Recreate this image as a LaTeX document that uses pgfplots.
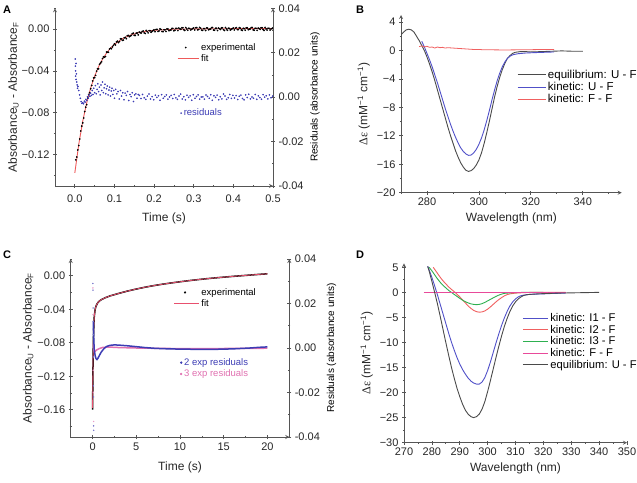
\documentclass[border=0pt]{standalone}
\usepackage{pgfplots}
\pgfplotsset{compat=1.18}
\usepackage{fontspec}
\setmainfont{Liberation Sans}
\newfontfamily\serifgr{Liberation Serif}
\definecolor{axgray}{HTML}{555555}
\definecolor{fitred}{HTML}{EE5A5A}
\definecolor{resblue}{HTML}{3C3CB4}
\definecolor{eqgray}{HTML}{4A4A4A}
\definecolor{kblue}{HTML}{5050C8}
\definecolor{kred}{HTML}{F06060}
\definecolor{kgreen}{HTML}{2EB050}
\definecolor{kpink}{HTML}{E84A9A}
\definecolor{cfit}{HTML}{E8506E}
\definecolor{cpink}{HTML}{E070B0}
\newcommand\tk{\fontsize{11}{12}\selectfont}
\newcommand\lb{\fontsize{12}{14}\selectfont}
\newcommand\lgs{\fontsize{9.5}{11}\selectfont}
\newcommand\lgb{\fontsize{11.5}{13}\selectfont}
\newcommand\lgd{\fontsize{11.2}{13}\selectfont}
\pgfplotsset{
  myax/.style={
    scale only axis, anchor=south west,
    axis line style={-, draw=axgray, line width=0.8pt},
    tick align=outside,
    tick style={draw=axgray, line width=0.7pt},
    major tick length=4pt, minor tick length=2.2pt,
    tick label style={font=\tk, text=black!85},
    label style={font=\lb, text=black!85},
    /pgf/number format/assume math mode=true,
    scaled x ticks=false, scaled y ticks=false,
    legend cell align=left,
  },
  dotleg/.style={legend image code/.code={\draw[##1] plot coordinates {(#1,0cm)};}},
  lineleg/.style={legend image code/.code={\draw[##1] (0pt,0pt) -- (#1,0pt);}},
}
\begin{document}
\begin{tikzpicture}
\path[use as bounding box] (0pt,0pt) rectangle (637pt,482pt);
% ===================== Panel A =====================
\begin{axis}[myax, at={(55pt,296pt)}, width=218pt, height=177.7pt,
  axis x line=bottom, axis y line=left,
  xmin=-0.05, xmax=0.5, ymin=-0.15, ymax=0.02,
  xtick={0,0.1,0.2,0.3,0.4,0.5}, xticklabels={0.0,0.1,0.2,0.3,0.4,0.5},
  minor xtick={-0.05,0.05,0.15,0.25,0.35,0.45},
  ytick={-0.12,-0.08,-0.04,0}, yticklabels={−0.12,−0.08,−0.04,0.00},
  minor ytick={-0.14,-0.10,-0.06,-0.02,0.02},
  xticklabel style={yshift=-3pt}, xlabel style={yshift=-4pt}, ylabel shift=-4pt,
  xlabel={Time (s)}, ylabel={Absorbance\textsubscript{U} - Absorbance\textsubscript{F}},
  legend style={draw=none, fill=none, font=\lgs, at={(0.56,0.747)}, anchor=west, inner sep=0pt, row sep=-1pt},
]
\addplot[only marks, mark=*, mark size=0.65pt, black, dotleg=8pt] coordinates {
(0.005,-0.1223)(0.010,-0.1113)(0.015,-0.0974)(0.020,-0.0896)(0.025,-0.0788)(0.030,-0.0722)(0.035,-0.0625)(0.040,-0.0570)(0.045,-0.0495)(0.050,-0.0464)
(0.055,-0.0401)(0.060,-0.0379)(0.065,-0.0324)(0.070,-0.0280)(0.075,-0.0268)(0.080,-0.0219)(0.085,-0.0221)(0.090,-0.0182)(0.095,-0.0169)(0.100,-0.0140)
(0.105,-0.0122)(0.110,-0.0128)(0.115,-0.0092)(0.120,-0.0107)(0.125,-0.0082)(0.130,-0.0091)(0.135,-0.0060)(0.140,-0.0065)(0.145,-0.0042)(0.150,-0.0059)
(0.155,-0.0038)(0.160,-0.0054)(0.165,-0.0033)(0.170,-0.0021)(0.175,-0.0035)(0.180,-0.0011)(0.185,-0.0035)(0.190,-0.0015)(0.195,-0.0020)(0.200,-0.0006)
(0.205,-0.0003)(0.210,-0.0021)(0.215,0.0003)(0.220,-0.0022)(0.225,-0.0005)(0.230,-0.0022)(0.235,0.0001)(0.240,-0.0010)(0.245,0.0007)(0.250,-0.0015)
(0.255,0.0008)(0.260,-0.0013)(0.265,0.0004)(0.270,0.0013)(0.275,-0.0005)(0.280,0.0016)(0.285,-0.0010)(0.290,0.0007)(0.295,0.0000)(0.300,0.0012)
(0.305,0.0014)(0.310,-0.0006)(0.315,0.0017)(0.320,-0.0009)(0.325,0.0006)(0.330,-0.0012)(0.335,0.0011)(0.340,-0.0001)(0.345,0.0015)(0.350,-0.0008)
(0.355,0.0008)(0.360,-0.0013)(0.365,0.0004)(0.370,0.0013)(0.375,-0.0005)(0.380,0.0016)(0.385,-0.0010)(0.390,0.0007)(0.395,0.0000)(0.400,0.0012)
(0.405,0.0010)(0.410,-0.0004)(0.415,0.0015)(0.420,-0.0007)(0.425,0.0008)(0.430,-0.0010)(0.435,0.0013)(0.440,0.0001)(0.445,0.0016)(0.450,-0.0006)
(0.455,0.0009)(0.460,-0.0011)(0.465,0.0006)(0.470,0.0014)(0.475,-0.0003)(0.480,0.0017)(0.485,-0.0008)(0.490,0.0009)(0.495,0.0002)(0.500,0.0013)
(0.0025,-0.1250)(0.0075,-0.1155)(0.0125,-0.1050)(0.0175,-0.0927)(0.0225,-0.0850)(0.0275,-0.0746)(0.0325,-0.0659)(0.0375,-0.0607)(0.0425,-0.0538)(0.0475,-0.0466)
(0.0525,-0.0442)(0.0575,-0.0379)(0.0625,-0.0335)(0.0675,-0.0312)(0.0725,-0.0264)(0.0775,-0.0261)(0.0825,-0.0220)(0.0875,-0.0190)(0.0925,-0.0187)(0.0975,-0.0154)
(0.1025,-0.0150)(0.1075,-0.0114)(0.1125,-0.0118)(0.1175,-0.0093)(0.1225,-0.0104)(0.1275,-0.0078)(0.1325,-0.0062)(0.1375,-0.0072)(0.1425,-0.0059)(0.1475,-0.0038)
(0.1525,-0.0059)(0.1575,-0.0036)(0.1625,-0.0028)(0.1675,-0.0037)(0.1725,-0.0018)(0.1775,-0.0041)(0.1825,-0.0023)(0.1875,-0.0014)(0.1925,-0.0029)(0.1975,-0.0013)
(0.2025,-0.0024)(0.2075,-0.0001)(0.2125,-0.0017)(0.2175,-0.0003)(0.2225,-0.0023)(0.2275,-0.0006)(0.2325,0.0003)(0.2375,-0.0014)(0.2425,-0.0007)(0.2475,0.0008)
(0.2525,-0.0010)(0.2575,0.0008)(0.2625,0.0011)(0.2675,-0.0002)(0.2725,0.0014)(0.2775,-0.0012)(0.2825,0.0003)(0.2875,0.0009)(0.2925,-0.0008)(0.2975,0.0006)
(0.3025,-0.0007)(0.3075,0.0015)(0.3125,-0.0003)(0.3175,0.0010)(0.3225,-0.0011)(0.3275,0.0005)(0.3325,0.0013)(0.3375,-0.0005)(0.3425,0.0001)(0.3475,0.0016)
(0.3525,-0.0010)(0.3575,0.0008)(0.3625,0.0011)(0.3675,-0.0002)(0.3725,0.0014)(0.3775,-0.0012)(0.3825,0.0003)(0.3875,0.0009)(0.3925,-0.0008)(0.3975,0.0006)
(0.4025,-0.0007)(0.4075,0.0015)(0.4125,-0.0003)(0.4175,0.0010)(0.4225,-0.0011)(0.4275,0.0005)(0.4325,0.0013)(0.4375,-0.0005)(0.4425,0.0001)(0.4475,0.0016)
(0.4525,-0.0010)(0.4575,0.0008)(0.4625,0.0011)(0.4675,-0.0002)(0.4725,0.0014)(0.4775,-0.0012)(0.4825,0.0003)(0.4875,0.0009)(0.4925,-0.0008)(0.4975,0.0006)
};
\addlegendentry{experimental}
\addplot[fitred, line width=0.9pt, lineleg=21pt] coordinates {
(0,-0.1375)(0.01,-0.1100)(0.02,-0.0880)(0.03,-0.0704)(0.04,-0.0562)(0.05,-0.0449)(0.06,-0.0359)(0.07,-0.0286)(0.08,-0.0228)(0.09,-0.0182)
(0.10,-0.0145)(0.12,-0.0091)(0.14,-0.0057)(0.16,-0.0034)(0.18,-0.0020)(0.20,-0.0011)(0.25,0.0000)(0.30,0.0003)(0.40,0.0005)(0.50,0.0005)
};
\addlegendentry{fit}
\end{axis}
\begin{axis}[myax, at={(55pt,296pt)}, width=218pt, height=177.7pt,
  axis x line=none, axis y line=right,
  xmin=-0.05, xmax=0.5, ymin=-0.04, ymax=0.04,
  ytick={-0.04,-0.02,0,0.02,0.04}, yticklabels={-0.04,-0.02,0.00,0.02,0.04},
  minor ytick={-0.03,-0.01,0.01,0.03},
  ylabel={Residuals (absorbance units)},
  legend style={draw=none, fill=none, font=\lgs, at={(0.575,0.41)}, anchor=west, inner sep=0pt},
]
\addplot[only marks, mark=*, mark size=0.6pt, resblue, dotleg=2pt] coordinates {
(0.001,0.0172)(0.0015,0.0140)(0.002,0.0118)(0.002,0.0095)(0.003,0.0152)(0.003,0.0080)(0.004,0.0105)(0.005,0.0068)(0.006,0.0055)(0.007,0.0040)
(0.008,0.0048)(0.010,0.0030)(0.012,0.0010)(0.014,-0.0005)(0.016,-0.0020)(0.018,-0.0028)(0.020,-0.0025)(0.022,-0.0030)(0.024,-0.0018)(0.026,-0.0022)
(0.028,-0.0010)(0.030,-0.0015)(0.032,0.0002)(0.034,-0.0005)(0.036,0.0010)(0.038,0.0004)(0.040,0.0018)(0.042,0.0008)(0.044,0.0030)(0.046,0.0012)
(0.048,0.0040)(0.050,0.0020)(0.052,0.0052)(0.054,0.0015)(0.056,0.0035)(0.058,0.0060)(0.060,0.0025)(0.062,0.0045)(0.064,0.0010)(0.066,0.0055)
(0.068,0.0030)(0.070,0.0068)(0.072,0.0020)(0.074,0.0042)(0.076,0.0058)(0.078,0.0015)(0.080,0.0038)(0.082,0.0050)(0.084,0.0010)(0.086,0.0032)
(0.088,0.0045)(0.090,0.0005)(0.092,0.0028)(0.094,0.0040)(0.096,0.0012)(0.098,0.0030)(0.100,-0.0005)(0.103,0.0035)(0.106,0.0015)(0.109,0.0025)
(0.112,-0.0008)(0.115,0.0030)(0.118,0.0005)(0.121,0.0020)(0.124,-0.0012)(0.127,0.0018)(0.130,0.0008)(0.133,0.0025)(0.136,-0.0015)(0.139,0.0012)
(0.142,0.0002)(0.145,0.0020)(0.148,-0.0020)(0.151,0.0010)(0.154,0.0015)(0.157,-0.0005)(0.160,0.0012)
(0.163,0.0008)(0.167,-0.0006)(0.171,0.0012)(0.175,-0.0003)(0.179,-0.0010)(0.183,0.0005)(0.187,0.0014)(0.191,-0.0008)(0.195,0.0002)(0.199,-0.0012)
(0.203,0.0009)(0.207,-0.0001)(0.211,0.0006)(0.215,-0.0014)(0.219,0.0011)(0.223,-0.0005)(0.227,0.0003)(0.231,0.0010)(0.235,-0.0009)(0.239,0.0001)
(0.243,0.0008)(0.247,-0.0006)(0.251,0.0012)(0.255,-0.0003)(0.259,-0.0010)(0.263,0.0005)(0.267,0.0014)(0.271,-0.0008)(0.275,0.0002)(0.279,-0.0012)
(0.283,0.0009)(0.287,-0.0001)(0.291,0.0006)(0.295,-0.0014)(0.299,0.0011)(0.303,-0.0005)(0.307,0.0003)(0.311,0.0010)(0.315,-0.0009)(0.319,0.0001)
(0.323,0.0001)(0.327,-0.0009)(0.331,0.0010)(0.335,0.0003)(0.339,-0.0005)(0.343,0.0011)(0.347,-0.0014)(0.351,0.0006)(0.355,-0.0001)(0.359,0.0009)
(0.363,-0.0012)(0.367,0.0002)(0.371,-0.0008)(0.375,0.0014)(0.379,0.0005)(0.383,-0.0010)(0.387,-0.0003)(0.391,0.0012)(0.395,-0.0006)(0.399,0.0008)
(0.403,-0.0004)(0.407,0.0007)(0.411,-0.0011)(0.415,0.0004)(0.419,0.0009)(0.423,-0.0006)(0.427,-0.0012)(0.431,0.0010)(0.435,-0.0002)(0.439,0.0013)
(0.443,-0.0008)(0.447,0.0001)(0.451,-0.0005)(0.455,0.0012)(0.459,-0.0010)(0.463,0.0006)(0.467,-0.0002)(0.471,-0.0009)(0.475,0.0011)(0.479,0.0000)
(0.483,0.0006)(0.487,-0.0008)(0.491,0.0010)(0.495,-0.0003)(0.499,0.0005)
};
\addlegendentry{\textcolor{resblue}{residuals}}
\end{axis}
% ===================== Panel B =====================
\begin{axis}[myax, at={(401pt,289.3pt)}, width=220.7pt, height=177.7pt,
  axis x line=bottom, axis y line=left,
  xmin=270, xmax=355, ymin=-20, ymax=5,
  xtick={280,300,320,340}, minor xtick={270,290,310,330,350},
  ytick={-20,-16,-12,-8,-4,0,4}, yticklabels={−20,−16,−12,−8,−4,0,4},
  minor ytick={-18,-14,-10,-6,-2,2},
  xlabel={Wavelength (nm)}, ylabel={{\serifgr Δε} (mM\textsuperscript{−1} cm\textsuperscript{−1})},
  legend image code/.code={\draw[#1] (0pt,0pt) -- (28pt,0pt);},
  legend style={draw=none, fill=none, font=\lgb, at={(0.525,0.595)}, anchor=west, inner sep=0pt, row sep=-1.5pt},
]
\addplot[eqgray, line width=0.9pt] coordinates {
(270,2.2)(271,2.6)(272,2.9)(273,3.0)(274,2.9)(275,2.6)(276,2.0)(277,1.4)(278,0.7)(279,0.0)(280,-0.9)(281,-1.9)(282,-3.0)(283,-4.2)(284,-5.5)
(285,-6.8)(286,-8.1)(287,-9.4)(288,-10.7)(289,-11.9)(290,-13.0)(291,-14.1)(292,-15.0)(293,-15.8)(294,-16.4)(295,-16.85)(296,-17.0)(297,-16.9)
(298,-16.6)(299,-16.1)(300,-15.4)(301,-14.4)(302,-13.1)(303,-11.6)(304,-10.0)(305,-8.3)(306,-6.6)(307,-5.1)(308,-3.8)(309,-2.7)(310,-1.8)
(311,-1.1)(312,-0.7)(313,-0.4)(314,-0.25)(316,-0.15)(318,-0.15)(320,-0.2)(324,-0.15)(328,-0.1)(332,-0.05)(336,-0.1)(340,-0.1)
};
\addlegendentry{equilibrium: U - F}
\addplot[kblue, line width=0.9pt] coordinates {
(278,1.3)(279,0.5)(280,-0.4)(281,-1.3)(282,-2.3)(283,-3.4)(284,-4.5)(285,-5.7)(286,-6.9)(287,-8.1)(288,-9.2)(289,-10.3)(290,-11.3)
(291,-12.2)(292,-13.0)(293,-13.7)(294,-14.2)(295,-14.55)(296,-14.75)(297,-14.7)(298,-14.4)(299,-13.9)(300,-13.2)(301,-12.3)(302,-11.2)
(303,-9.9)(304,-8.5)(305,-7.0)(306,-5.6)(307,-4.3)(308,-3.2)(309,-2.3)(310,-1.6)(311,-1.1)(312,-0.8)(313,-0.6)(315,-0.45)(318,-0.35)
(321,-0.3)(325,-0.25)(329,-0.2)
};
\addlegendentry{kinetic: U - F}
\addplot[kred, line width=0.8pt] coordinates {
(277,0.55)(278,0.65)(279,0.5)(280,0.6)(281,0.45)(282,0.5)(283,0.35)(284,0.5)(285,0.4)(286,0.45)(287,0.35)(288,0.4)(290,0.35)
(292,0.3)(294,0.25)(296,0.2)(298,0.15)(300,0.15)(302,0.1)(305,0.1)(310,0.08)(315,0.1)(320,0.12)(325,0.15)(329,0.15)
};
\addlegendentry{kinetic: F - F}
\end{axis}
% ===================== Panel C =====================
\begin{axis}[myax, at={(70.7pt,45pt)}, width=218.6pt, height=178pt,
  axis x line=bottom, axis y line=left,
  xmin=-2.5, xmax=22.5, ymin=-0.1926, ymax=0.0201,
  xtick={0,5,10,15,20}, minor xtick={-2.5,2.5,7.5,12.5,17.5,22.5},
  ytick={-0.16,-0.12,-0.08,-0.04,0}, yticklabels={−0.16,−0.12,−0.08,−0.04,0.00},
  minor ytick={-0.18,-0.14,-0.10,-0.06,-0.02,0.02},
  xlabel style={yshift=-5pt}, ylabel shift=-3pt,
  xlabel={Time (s)}, ylabel={Absorbance\textsubscript{U} - Absorbance\textsubscript{F}},
  legend style={draw=none, fill=none, font=\lgs, at={(0.47,0.78)}, anchor=west, inner sep=0pt, row sep=-1pt},
]
\addplot[black, line width=1.5pt, forget plot] coordinates {
(0,-0.160)(0.02,-0.140)(0.04,-0.118)(0.06,-0.100)(0.08,-0.086)(0.1,-0.075)(0.15,-0.058)(0.2,-0.048)(0.3,-0.040)(0.4,-0.036)(0.6,-0.032)
(0.8,-0.0300)(1.0,-0.0285)(1.5,-0.0260)(2,-0.0240)(3,-0.0210)(4,-0.0182)(5,-0.0158)(6,-0.0136)(7,-0.0117)(8,-0.0100)(9,-0.0085)
(10,-0.0071)(11,-0.0058)(12,-0.0046)(13,-0.0035)(14,-0.0025)(15,-0.0016)(16,-0.0007)(17,0.0001)(18,0.0009)(19,0.0017)(20,0.0024)
};
\addlegendimage{only marks, mark=*, mark size=0.9pt, black, dotleg=11pt}
\addlegendentry{experimental}
\addplot[cfit, line width=0.8pt, lineleg=25pt] coordinates {
(0,-0.158)(0.02,-0.139)(0.04,-0.118)(0.06,-0.100)(0.08,-0.086)(0.1,-0.075)(0.15,-0.058)(0.2,-0.048)(0.3,-0.040)(0.4,-0.036)(0.6,-0.032)
(0.8,-0.0300)(1.0,-0.0285)(1.5,-0.0260)(2,-0.0240)(3,-0.0210)(4,-0.0182)(5,-0.0158)(6,-0.0136)(7,-0.0117)(8,-0.0100)(9,-0.0085)
(10,-0.0071)(11,-0.0058)(12,-0.0046)(13,-0.0035)(14,-0.0025)(15,-0.0016)(16,-0.0007)(17,0.0001)(18,0.0009)(19,0.0017)(20,0.0024)
};
\addlegendentry{fit}
\end{axis}
\begin{axis}[myax, at={(70.7pt,45pt)}, width=218.6pt, height=178pt,
  axis x line=none, axis y line=right,
  xmin=-2.5, xmax=22.5, ymin=-0.04, ymax=0.04,
  ytick={-0.04,-0.02,0,0.02,0.04}, yticklabels={-0.04,-0.02,0.00,0.02,0.04},
  minor ytick={-0.03,-0.01,0.01,0.03},
  ylabel={Residuals (absorbance units)},
  legend style={draw=none, fill=none, font=\lgs, at={(0.5,0.386)}, anchor=west, inner sep=0pt, row sep=-1pt},
]
\addplot[only marks, mark=*, mark size=0.5pt, resblue!70, forget plot] coordinates {
(0.03,0.029)(0.05,0.026)(0.06,0.018)(0.07,0.012)(0.08,0.006)(0.09,-0.004)(0.10,-0.017)(0.11,-0.022)(0.12,-0.035)(0.13,-0.037)
};
\addplot[only marks, mark=*, mark size=0.5pt, cpink!70, forget plot] coordinates {
(0.04,0.027)(0.06,0.015)(0.08,-0.010)(0.10,-0.020)(0.12,-0.033)
};
\addplot[cpink, line width=1.5pt, forget plot] coordinates {
(0.1,0.002)(0.15,-0.001)(0.2,-0.0018)(0.3,-0.0015)(0.5,-0.0008)(0.8,-0.0002)(1.2,0.0003)(2,0.0004)(3,0.0002)(5,0.0000)(8,-0.0002)(12,-0.0003)(16,-0.0002)(20,-0.0001)
};
\addplot[resblue, line width=1.5pt, forget plot] coordinates {
(0.08,0.012)(0.12,0.006)(0.16,0.002)(0.2,-0.001)(0.3,-0.0035)(0.4,-0.0048)(0.5,-0.0052)(0.6,-0.0047)(0.8,-0.0032)(1.0,-0.0018)(1.3,-0.0003)
(1.6,0.0007)(2,0.0012)(2.5,0.0014)(3,0.0013)(4,0.0010)(5,0.0006)(6,0.0002)(7,-0.0001)(8,-0.0003)(10,-0.0005)(12,-0.0006)(14,-0.0006)
(16,-0.0004)(18,0.0000)(19,0.0003)(20,0.0005)
};
\addlegendimage{only marks, mark=*, mark size=1pt, resblue, dotleg=2pt}
\addlegendentry{\textcolor{resblue}{2 exp residuals}}
\addlegendimage{only marks, mark=*, mark size=1pt, cpink, dotleg=2pt}
\addlegendentry{\textcolor{cpink}{3 exp residuals}}
\end{axis}
% ===================== Panel D =====================
\begin{axis}[myax, at={(404pt,39.3pt)}, width=223pt, height=179.4pt,
  axis x line=bottom, axis y line=left,
  xmin=270, xmax=350, ymin=-30, ymax=5.8,
  xtick={270,280,290,300,310,320,330,340,350},
  minor xtick={275,285,295,305,315,325,335,345},
  ytick={-30,-25,-20,-15,-10,-5,0,5}, yticklabels={−30,−25,−20,−15,−10,−5,0,5},
  minor ytick={-27.5,-22.5,-17.5,-12.5,-7.5,-2.5,2.5},
  xlabel={Wavelength (nm)}, ylabel={{\serifgr Δε} (mM\textsuperscript{−1} cm\textsuperscript{−1})},
  legend image code/.code={\draw[#1, line width=1pt] (0pt,0pt) -- (25pt,0pt);},
  legend style={draw=none, fill=none, font=\lgd, at={(0.53,0.564)}, anchor=west, inner sep=0pt, row sep=-2pt},
]
\addplot[kblue, line width=0.9pt] coordinates {
(278.5,5.2)(279,4.5)(280,3.0)(281,1.3)(282,-0.5)(283,-2.4)(284,-4.3)(285,-6.2)(286,-8.1)(287,-9.9)(288,-11.5)(289,-13.0)(290,-14.3)
(291,-15.4)(292,-16.3)(293,-17.1)(294,-17.7)(295,-18.1)(296,-18.3)(297,-18.3)(298,-17.9)(299,-17.0)(300,-15.6)(301,-13.9)(302,-12.0)
(303,-10.1)(304,-8.3)(305,-6.6)(306,-5.1)(307,-3.8)(308,-2.7)(309,-1.9)(310,-1.3)(311,-0.9)(312,-0.65)(314,-0.45)(317,-0.35)(320,-0.3)
(324,-0.2)(328,-0.15)
};
\addlegendentry{kinetic: I1 - F}
\addplot[kred, line width=0.9pt] coordinates {
(280.5,5.0)(281,4.6)(282,3.8)(283,3.0)(284,2.3)(285,1.7)(286,1.1)(287,0.6)(288,0.15)(289,-0.35)(290,-0.9)(291,-1.5)(292,-2.1)(293,-2.7)
(294,-3.2)(295,-3.6)(296,-3.85)(297,-3.95)(298,-3.9)(299,-3.7)(300,-3.35)(301,-2.9)(302,-2.4)(303,-1.9)(304,-1.45)(305,-1.05)(306,-0.7)
(307,-0.45)(308,-0.3)(310,-0.15)(313,-0.05)(316,0.0)(320,0.0)(324,0.0)(328,0.0)
};
\addlegendentry{kinetic: I2 - F}
\addplot[kgreen, line width=0.9pt] coordinates {
(279,5.0)(280,4.3)(281,3.5)(282,2.7)(283,2.0)(284,1.4)(285,0.9)(286,0.4)(287,0.0)(288,-0.4)(289,-0.8)(290,-1.2)(291,-1.55)(292,-1.85)
(293,-2.1)(294,-2.3)(295,-2.4)(296,-2.45)(297,-2.4)(298,-2.25)(299,-2.0)(300,-1.7)(301,-1.4)(302,-1.1)(303,-0.8)(304,-0.55)(305,-0.35)
(306,-0.2)(308,-0.1)(310,-0.05)(313,0.0)(316,0.0)(320,0.0)
};
\addlegendentry{kinetic: I3 - F}
\addplot[kpink, line width=0.9pt] coordinates {
(277,0.0)(285,0.0)(295,0.0)(305,0.0)(315,0.0)(328,0.0)
};
\addlegendentry{kinetic: F - F}
\addplot[eqgray, line width=0.9pt] coordinates {
(278.5,5.2)(279,4.3)(280,2.2)(281,0.0)(282,-2.3)(283,-4.8)(284,-7.4)(285,-10.0)(286,-12.5)(287,-14.9)(288,-17.1)(289,-19.1)(290,-20.8)
(291,-22.3)(292,-23.5)(293,-24.3)(294,-24.8)(295,-25.0)(296,-24.8)(297,-24.3)(298,-23.3)(299,-21.8)(300,-19.8)(301,-17.6)(302,-15.3)
(303,-13.0)(304,-10.8)(305,-8.7)(306,-6.8)(307,-5.2)(308,-3.8)(309,-2.7)(310,-1.9)(311,-1.3)(312,-0.9)(313,-0.6)(315,-0.4)(318,-0.3)
(320,-0.25)(325,-0.15)(330,-0.1)(335,-0.05)(340,0.0)
};
\addlegendentry{equilibrium: U - F}
\end{axis}
% panel letters
\node[anchor=north west, inner sep=0pt, font=\bfseries\fontsize{11}{12}\selectfont] at (3pt,476pt) {A};
\node[anchor=north west, inner sep=0pt, font=\bfseries\fontsize{11}{12}\selectfont] at (356pt,476pt) {B};
\node[anchor=north west, inner sep=0pt, font=\bfseries\fontsize{11}{12}\selectfont] at (3pt,231pt) {C};
\node[anchor=north west, inner sep=0pt, font=\bfseries\fontsize{11}{12}\selectfont] at (356pt,231pt) {D};
\end{tikzpicture}
\end{document}
